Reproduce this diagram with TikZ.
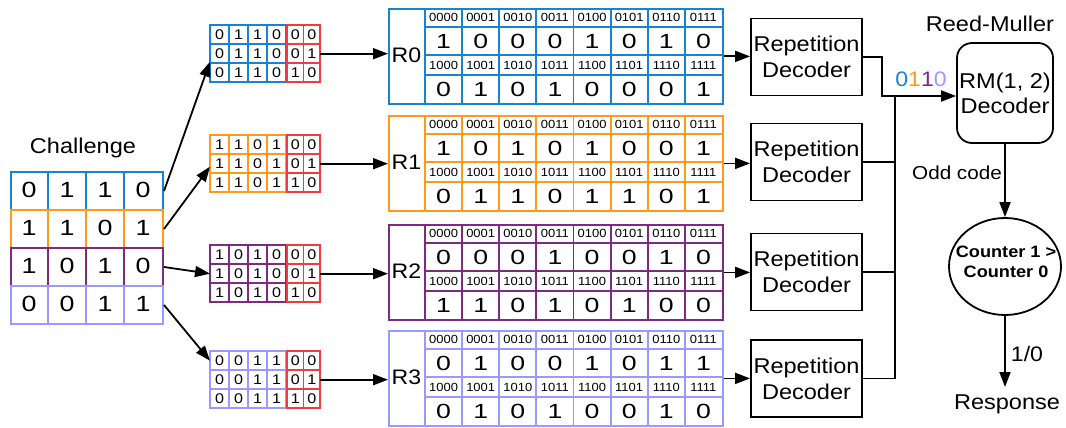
\documentclass[tikz,border=0pt]{standalone}
\usepackage{fontspec}
\setmainfont[FakeStretch=1.1]{Liberation Sans}
\newfontfamily\digA[FakeStretch=1.22]{Liberation Sans}
\newfontfamily\digB[FakeStretch=1.3]{Liberation Sans}
\newfontfamily\digC[FakeStretch=1.15]{Liberation Sans}
\usetikzlibrary{arrows.meta,shapes.geometric}
\definecolor{cblue}{RGB}{25,132,206}
\definecolor{corange}{RGB}{255,153,26}
\definecolor{cpurple}{RGB}{126,42,126}
\definecolor{clav}{RGB}{153,153,255}
\definecolor{cred}{RGB}{240,60,60}
\tikzset{
 ln/.style={line width=1.8pt},
 arr/.style={line width=1.8pt,-{Triangle[length=15pt,width=11pt]}},
 chl/.style={line width=2pt},
 sgl/.style={line width=1.6pt},
 tbl/.style={line width=1.8pt},
 chd/.style={inner sep=0pt,font=\digA\fontsize{22}{24}\selectfont},
 sgd/.style={inner sep=0pt,font=\digC\fontsize{14}{16}\selectfont},
 tbd/.style={inner sep=0pt,font=\digB\fontsize{20.5}{22}\selectfont},
 hdr/.style={inner sep=0pt,font=\fontsize{11.8}{13}\selectfont},
 rlab/.style={inner sep=0pt,font=\fontsize{21}{24}\selectfont},
 txt/.style={inner sep=0pt,font=\fontsize{21.4}{26}\selectfont},
 dec/.style={draw,line width=1.8pt,minimum width=111pt,minimum height=77pt,inner sep=0pt,align=center,font=\fontsize{21.4}{26}\selectfont},
}
% challenge row: name, ytop, colour, bits
\newcommand{\chrow}[4]{%
 \node[draw=#3,chl,minimum width=152pt,minimum height=38pt,inner sep=0pt,anchor=north west] (#1) at (10,#2) {};
 \foreach \k in {1,2,3} \draw[#3,chl] ({10+38*\k},#2) -- ++(0,38);
 \foreach \b [count=\j from 0] in {#4} \node[chd] (#1d\j) at ({29+38*\j},{#2+19}) {\b};
}
% small grid: name, ytop, colour, bits
\newcommand{\sgrid}[4]{%
 \node[minimum width=110pt,minimum height=57pt,inner sep=0pt,anchor=north west] (#1) at (210,#2) {};
 \draw[#3,sgl] (210,#2) rectangle (286,{#2+57});
 \foreach \k in {1,2,3} \draw[#3,sgl] ({210+19*\k},#2) -- ++(0,57);
 \foreach \k in {1,2} \draw[#3,sgl] (210,{#2+19*\k}) -- (286,{#2+19*\k});
 \draw[cred,sgl] (287,#2) rectangle (320,{#2+57});
 \draw[cred,sgl] (303.5,#2) -- ++(0,57);
 \foreach \k in {1,2} \draw[cred,sgl] (287,{#2+19*\k}) -- (320,{#2+19*\k});
 \foreach \i in {0,1,2} {
  \foreach \b [count=\j from 0] in {#4} \node[sgd] (#1d\i\j) at ({219.5+19*\j},{#2+9.5+19*\i}) {\b};
 }
 \node[sgd] (#1ra) at (295.25,{#2+9.5}) {0};
 \node[sgd] (#1rb) at (311.75,{#2+9.5}) {0};
 \node[sgd] (#1rc) at (295.25,{#2+28.5}) {0};
 \node[sgd] (#1rd) at (311.75,{#2+28.5}) {1};
 \node[sgd] (#1re) at (295.25,{#2+47.5}) {1};
 \node[sgd] (#1rf) at (311.75,{#2+47.5}) {0};
}
% R table: name, ytop, colour, label, row1, row2
\newcommand{\rtable}[6]{%
 \node[draw=#3,tbl,minimum width=334pt,minimum height=95pt,inner sep=0pt,anchor=north west] (#1) at (388,#2) {};
 \node[rlab] (#1lab) at (406.5,{#2+47.5}) {#4};
 \draw[#3,tbl] (425,#2) -- ++(0,95);
 \foreach \yy in {19,47,67} \draw[#3,tbl] (425,{#2+\yy}) -- (722,{#2+\yy});
 \foreach \k in {1,...,7} \draw[#3,tbl] ({425+37.125*\k},#2) -- ++(0,95);
 \foreach \h [count=\j from 0] in {0000,0001,0010,0011,0100,0101,0110,0111}
   \node[hdr] (#1ha\j) at ({443.56+37.125*\j},{#2+9.5}) {\h};
 \foreach \h [count=\j from 0] in {1000,1001,1010,1011,1100,1101,1110,1111}
   \node[hdr] (#1hb\j) at ({443.56+37.125*\j},{#2+57}) {\h};
 \foreach \b [count=\j from 0] in {#5} \node[tbd] (#1a\j) at ({443.56+37.125*\j},{#2+33}) {\b};
 \foreach \b [count=\j from 0] in {#6} \node[tbd] (#1b\j) at ({443.56+37.125*\j},{#2+81}) {\b};
}
\begin{document}
\begin{tikzpicture}[x=1pt,y=-1pt]
\useasboundingbox (0,0) rectangle (1066,428);
\node[txt] (chall) at (83,147.5) {Challenge};
\chrow{ch0}{171}{cblue}{0,1,1,0}
\chrow{ch1}{209}{corange}{1,1,0,1}
\chrow{ch2}{247}{cpurple}{1,0,1,0}
\chrow{ch3}{285}{clav}{0,0,1,1}

\sgrid{g0}{25}{cblue}{0,1,1,0}
\sgrid{g1}{135}{corange}{1,1,0,1}
\sgrid{g2}{245}{cpurple}{1,0,1,0}
\sgrid{g3}{351}{clav}{0,0,1,1}

\rtable{r0}{8}{cblue}{R0}{1,0,0,0,1,0,1,0}{0,1,0,1,0,0,0,1}
\rtable{r1}{115}{corange}{R1}{1,0,1,0,1,0,0,1}{0,1,1,0,1,1,0,1}
\rtable{r2}{224}{cpurple}{R2}{0,0,0,1,0,0,1,0}{1,1,0,1,0,1,0,0}
\rtable{r3}{330}{clav}{R3}{0,1,0,0,1,0,1,1}{0,1,0,1,0,0,1,0}

\foreach \n/\yc in {0/57,1/162,2/272,3/378.5}
  \node[dec] (dec\n) at (806.5,\yc) {Repetition\\Decoder};

% challenge -> grids
\draw[arr] (ch0.east) -- ([yshift=-8pt]g0.west);
\draw[arr] (ch1.east) -- ([yshift=-3pt]g1.west);
\draw[arr] (ch2.east) -- (g2.west);
\draw[arr] (ch3.east) -- ([yshift=19pt]g3.west);
% grids -> tables -> decoders
\foreach \n in {0,1,2,3} {
  \draw[arr] (g\n.east) -- (g\n.east -| r\n.west);
  \draw[arr] (r\n.east) -- (r\n.east -| dec\n.west);
}

% Reed-Muller decoder
\node[draw,ln,rounded corners=15pt,minimum width=96pt,minimum height=100pt,inner sep=0pt,align=center,font=\fontsize{21.4}{25}\selectfont] (rm) at (1005,93) {RM(1, 2)\\Decoder};
\node[txt] (rmt) at (990,24) {Reed-Muller};
\node[inner sep=0pt,font=\fontsize{21}{24}\selectfont] (bits) at (921,79) {\textcolor{cblue}{0}\textcolor{corange}{1}\textcolor{cpurple}{1}\textcolor{clav}{0}};
\coordinate (j0) at (882,96);
\coordinate (bus) at (895,96);
\draw[arr] (dec0.east) -| (j0) -- (rm.west |- j0);
\draw[ln] (bus) -- (bus |- dec3.east) -- (dec3.east);
\draw[ln] (dec1.east) -- (dec1.east -| bus);
\draw[ln] (dec2.east) -- (dec2.east -| bus);

% counter
\node[draw,ln,ellipse,minimum width=112pt,minimum height=97pt,inner sep=0pt] (cnt) at (1005,266.5) {};
\node[inner sep=0pt,align=center,font=\bfseries\fontsize{16.5}{20.5}\selectfont] (cntt) at (1006,262) {Counter 1 >\\Counter 0};
\draw[arr] (rm.south) -- (cnt.north);
\node[inner sep=0pt,font=\fontsize{18.8}{22}\selectfont] (odd) at (957,173) {Odd code};
\node[txt,anchor=north,inner ysep=8pt] (resp) at (1007,387) {Response};
\draw[arr] (cnt.south) -- (cnt.south |- resp.north);
\node[inner sep=0pt,font=\fontsize{21}{24}\selectfont] (ten) at (1027,354) {1/0};
\end{tikzpicture}
\end{document}
